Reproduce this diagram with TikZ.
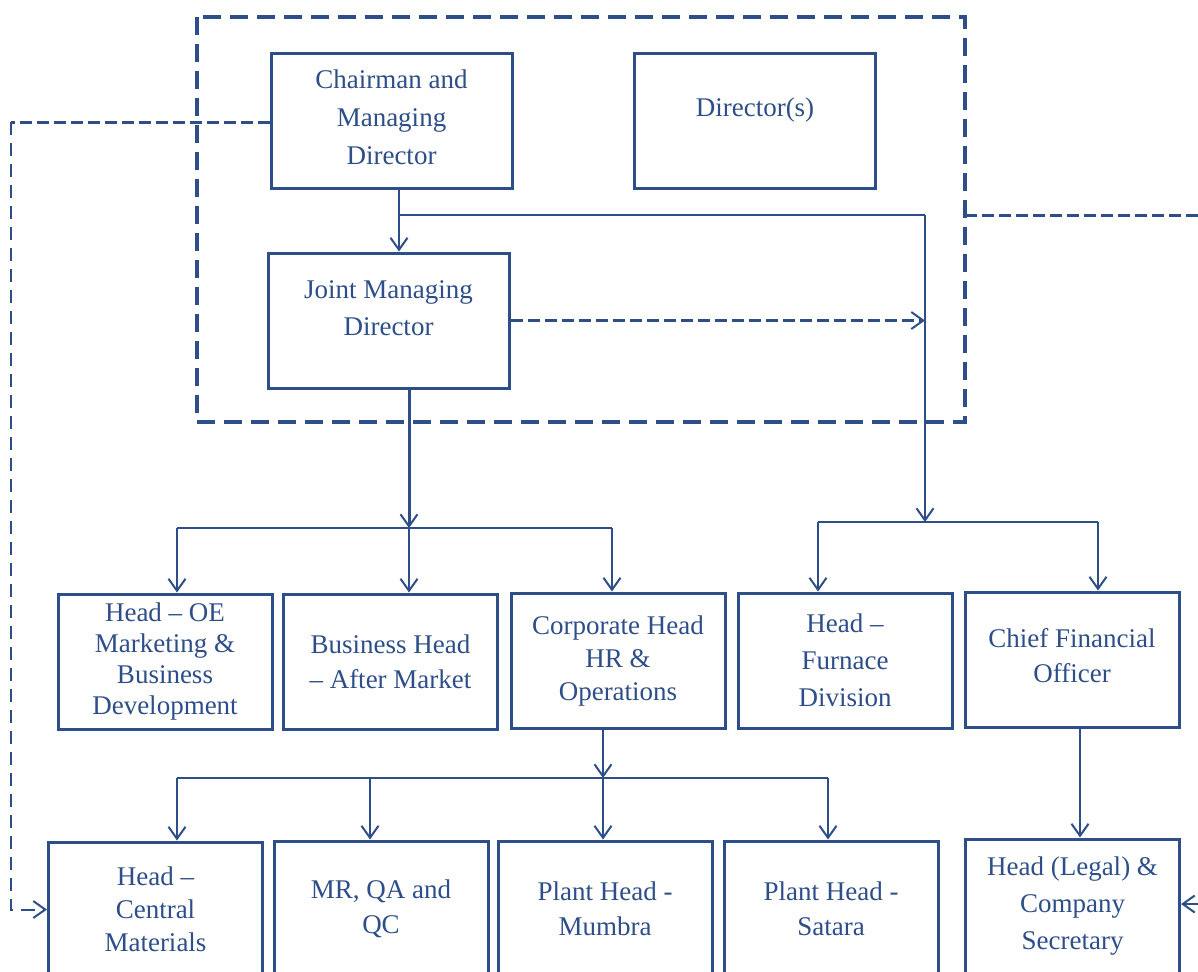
\documentclass[tikz,border=0pt]{standalone}
\usepackage{fontspec}
\setmainfont{Liberation Serif}
\usetikzlibrary{arrows.meta}
\definecolor{orgblue}{RGB}{45,78,136}
\begin{document}
\begin{tikzpicture}[x=0.5pt, y=-0.5pt,
  box/.style={draw=orgblue, line width=1.5pt, text=orgblue, align=center,
    minimum width=107pt, minimum height=67.5pt, inner sep=2pt,
    font=\fontsize{13.5}{17.5}\selectfont},
  topbox/.style={box, minimum width=120.5pt},
  tip/.style={-{Straight Barb[length=6pt,width=8.5pt,line width=1pt]}},
  link/.style={draw=orgblue, line width=1pt},
  thicklink/.style={draw=orgblue, line width=1.5pt},
  dashlink/.style={draw=orgblue, line width=1.5pt, dash pattern=on 6pt off 2.5pt},
  thindash/.style={draw=orgblue, line width=1pt, dash pattern=on 6.5pt off 4pt},
  frame/.style={draw=orgblue, line width=2pt, dash pattern=on 9pt off 4.5pt}]
  \useasboundingbox (0,0) rectangle (1198,971);
  \clip (0,0) rectangle (1198,971);
  % board
  \draw[frame] (197,17) rectangle (965,422);
  \node[topbox, font=\fontsize{13.5}{19}\selectfont] (CMD) at (391.5,120.5) {Chairman and\\Managing\\Director\\[-15.5pt]};
  \node[topbox] (Dir) at (755,120.5) {Director(s)\\[-4.5pt]};
  \node[topbox, font=\fontsize{13.5}{18.5}\selectfont] (JMD) at (388.5,320.5) {Joint Managing\\Director\\[-6.5pt]};
  % second level
  \node[box, font=\fontsize{13.5}{15.5}\selectfont] (OE) at (165,661.5) {Head -- OE\\Marketing \&\\Business\\Development};
  \node[box] (BH) at (390.5,661.5) {Business Head\\-- After Market};
  \node[box, font=\fontsize{13.5}{16.5}\selectfont] (CH) at (618,660.5) {Corporate Head\\HR \&\\Operations};
  \node[box, font=\fontsize{13.5}{18.5}\selectfont] (HF) at (845,660.5) {Head --\\Furnace\\Division};
  \node[box] (CFO) at (1072,659.5) {Chief Financial\\Officer\\[-13pt]};
  % third level
  \node[box, font=\fontsize{13.5}{16.5}\selectfont] (HCM) at (155.5,909.5) {Head --\\Central\\Materials};
  \node[box] (MR) at (381,908.5) {MR, QA and\\QC};
  \node[box] (PM) at (605,908.5) {Plant Head -\\Mumbra};
  \node[box] (PS) at (831,908.5) {Plant Head -\\Satara};
  \node[box, font=\fontsize{13.5}{18.5}\selectfont] (HL) at (1072.5,906.5) {Head (Legal) \&\\Company\\Secretary};
  % junctions
  \coordinate (c1) at (399,215);
  \coordinate (c2) at (925,215);
  \coordinate (b1) at (409,528);
  \coordinate (b2) at (925,522);
  \coordinate (b3) at (603,778);
  \draw[link, tip] (CMD.south -| c1) -- (JMD.north -| c1);
  \draw[link] (c1) -- (c2);
  \draw[link, tip] (c2) -- (b2);
  \draw[dashlink, tip] (JMD.east) -- (JMD.east -| c2);
  \draw[thicklink, tip] (JMD.south -| b1) -- (b1);
  % bracket under JMD
  \draw[link] (177,528) -- (612,528);
  \draw[link, tip] (177,528) -- (OE.north -| 177,0);
  \draw[link, tip] (b1) -- (BH.north -| b1);
  \draw[link, tip] (612,528) -- (CH.north -| 612,0);
  % bracket right
  \draw[link] (818,522) -- (1098,522);
  \draw[link, tip] (818,522) -- (HF.north -| 818,0);
  \draw[link, tip] (1098,522) -- (CFO.north -| 1098,0);
  % bracket under CH
  \draw[link, tip] (CH.south -| b3) -- (b3);
  \draw[link] (177,778) -- (828,778);
  \draw[link, tip] (177,778) -- (HCM.north -| 177,0);
  \draw[link, tip] (370,778) -- (MR.north -| 370,0);
  \draw[link, tip] (b3) -- (PM.north -| b3);
  \draw[link, tip] (828,778) -- (PS.north -| 828,0);
  \draw[link, tip] (CFO.south -| 1080,0) -- (HL.north -| 1080,0);
  % dashed reporting lines
  \coordinate (lc) at (11,122);
  \coordinate (rc) at (1198,215);
  \coordinate (rin) at (1198,904);
  \draw[dashlink] (CMD.west |- lc) -- (lc);
  \draw[thindash, tip] (lc) -- (lc |- HCM.west) -- (HCM.west);
  \draw[dashlink] (965,215) -- (rc);
  \draw[thindash, tip] (rin) -- (HL.east |- rin);
\end{tikzpicture}
\end{document}
